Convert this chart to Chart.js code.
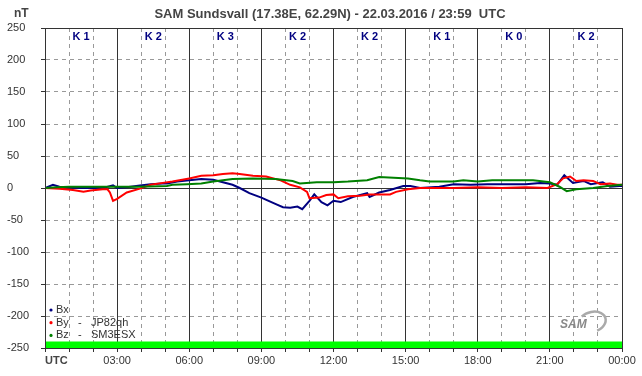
<!DOCTYPE html>
<html>
<head>
<meta charset="utf-8">
<script src="https://cdn.jsdelivr.net/npm/chart.js@4.4.1/dist/chart.umd.min.js"></script>
<style>
  html, body { margin: 0; padding: 0; background: #fff; }
  #wrap { width: 642px; height: 376px; }
</style>
</head>
<body>
<div id="wrap"><canvas id="chart" width="642" height="376"></canvas></div>
<script>
// SAM Sundsvall magnetometer, 22.03.2016

const bxTimes  = [0, 0.33, 0.6, 1.0, 1.5, 2.0, 2.5, 2.83, 3.0, 3.4, 3.95, 4.4, 4.9, 5.07, 5.5, 6.0, 6.5, 7.0, 7.4, 7.8, 8.1, 8.5, 9.0, 9.23, 9.65, 9.9, 10.2, 10.5, 10.7, 11.0, 11.2, 11.5, 11.75, 12.0, 12.3, 12.8, 13.4, 13.5, 13.9, 14.35, 14.9, 15.2, 15.6, 16.4, 17.0, 17.7, 18.4, 19.2, 20.0, 20.6, 21.0, 21.3, 21.6, 21.96, 22.4, 22.7, 23.2, 23.5, 23.9, 24];
const bxValues = [0, 5, 2, 1, 0, 0, 1, 4, 0, 1, 4, 6, 7, 7, 10, 12, 14, 13, 9, 5, 0, -8, -15, -19, -26, -30, -31, -29, -33, -20, -10, -22, -27, -20, -22, -14, -8, -14, -7, -3, 3, 3, 0, 2, 6, 5, 6, 6, 6, 8, 7, 5, 20, 8, 11, 6, 9, 2, 3, 3];

const byTimes  = [0, 0.6, 1.16, 1.6, 1.9, 2.4, 2.6, 2.7, 2.83, 3.0, 3.4, 3.95, 4.4, 4.9, 5.3, 6.0, 6.5, 7.0, 7.4, 7.8, 8.1, 8.65, 9.2, 9.8, 10.2, 10.6, 10.9, 11.0, 11.4, 11.7, 12.0, 12.2, 12.6, 13.1, 13.5, 14.35, 14.6, 15.1, 15.6, 17.0, 18.0, 19.0, 20.0, 20.9, 21.3, 21.55, 21.84, 22.1, 22.4, 22.8, 23.1, 23.5, 23.8, 24];
const byValues = [0, -1, -3, -6, -4, -2, -2, -7, -20, -17, -7, -1, 5, 8, 10, 15, 19, 20, 22, 23, 22, 19, 18, 12, 5, 1, -6, -16, -15, -11, -10, -16, -13, -12, -10, -10, -6, -2, 0, 0, 1, 0, 1, 0, 6, 15, 18, 11, 12, 11, 6, 7, 5, 5];

const bzTimes  = [0, 0.5, 1, 2, 3, 3.95, 5.07, 5.3, 5.9, 6.5, 7.0, 7.8, 8.65, 9.6, 10.3, 10.6, 11.3, 12.0, 12.6, 13.4, 13.9, 14.5, 15.1, 15.6, 16.0, 17.0, 17.4, 18.0, 18.6, 19.5, 20.3, 21.0, 21.4, 21.7, 22.1, 22.8, 23.4, 24];
const bzValues = [0, 1, 2, 2, 2, 2, 3, 5, 6, 7, 10, 14, 15, 14, 11, 7, 9, 9, 10, 12, 17, 16, 15, 12, 10, 10, 12, 10, 12, 12, 12, 9, 2, -5, -2, 0, 3, 5];

// data-quality band at the bottom of the plot
const bandTimes  = [0, 24];
const bandValues = [-240, -240];

const kIndices = [1, 2, 3, 2, 2, 1, 0, 2];
const hourLabels = ['UTC', '', '', '03:00', '', '', '06:00', '', '', '09:00', '', '', '12:00', '', '', '15:00', '', '', '18:00', '', '', '21:00', '', '', '00:00'];

const FONT = '"Liberation Sans", Arial, sans-serif';

const pts = (xs, ys) => xs.map((x, i) => ({ x: x, y: ys[i] }));

const extras = {
    id: 'extras',
    afterDraw(chart) {
        const { ctx, chartArea: a, scales: { x, y } } = chart;
        ctx.save();
        // frame
        ctx.strokeStyle = '#333';
        ctx.lineWidth = 1;
        ctx.strokeRect(a.left + 0.5, a.top + 0.5, a.right - a.left, a.bottom - a.top);

        // title + unit
        ctx.fillStyle = '#444';
        ctx.font = 'bold 13px ' + FONT;
        ctx.textAlign = 'center';
        ctx.textBaseline = 'middle';
        ctx.fillText('SAM Sundsvall (17.38E, 62.29N) - 22.03.2016 / 23:59  UTC', 330, 14);
        ctx.font = 'bold 12px ' + FONT;
        ctx.textAlign = 'left';
        ctx.fillText('nT', 14, 14);

        // K indices per 3h block
        ctx.fillStyle = '#000080';
        ctx.font = 'bold 11px ' + FONT;
        ctx.textAlign = 'center';
        kIndices.forEach((k, i) => {
            ctx.fillText('K ' + k, x.getPixelForValue(i * 3 + 1.5), y.getPixelForValue(250) + 9);
        });

        // UTC label at origin
        ctx.fillStyle = '#444';
        ctx.font = 'bold 11px ' + FONT;
        ctx.textAlign = 'left';
        ctx.fillText('UTC', a.left, 361);

        // legend
        const leg = [['Bx', '', '#000080'], ['By', 'JP82qh', '#ff0000'], ['Bz', 'SM3ESX', '#008000']];
        ctx.font = '11px ' + FONT;
        leg.forEach((l, i) => {
            const ly = 310 + i * 12.7;
            ctx.fillStyle = l[2];
            ctx.beginPath();
            ctx.arc(51, ly, 1.6, 0, Math.PI * 2);
            ctx.fill();
            ctx.fillStyle = '#333';
            ctx.fillText(l[0], 56, ly);
            if (l[1]) {
                ctx.fillText('-', 78, ly);
                ctx.fillText(l[1], 91, ly);
            }
        });

        // SAM logo
        ctx.strokeStyle = '#aaa';
        ctx.lineWidth = 2.5;
        ctx.beginPath();
        ctx.ellipse(592, 322, 14, 10, -0.3, -2.2, 1.4);
        ctx.stroke();
        ctx.fillStyle = '#888';
        ctx.font = 'italic bold 12px ' + FONT;
        ctx.textAlign = 'left';
        ctx.fillText('SAM', 560, 325);
        ctx.restore();
    }
};

new Chart(document.getElementById('chart'), {
    type: 'line',
    data: {
        datasets: [
            { label: 'Bz', data: pts(bzTimes, bzValues), borderColor: '#008000', order: 0 },
            { label: 'By', data: pts(byTimes, byValues), borderColor: '#ff0000', order: 1 },
            { label: 'Bx', data: pts(bxTimes, bxValues), borderColor: '#000080', order: 2 },
            {
                label: 'band', data: pts(bandTimes, bandValues), borderWidth: 0,
                borderColor: 'rgba(0,0,0,0)', backgroundColor: '#00ff00',
                fill: { value: -250 }, order: 3
            }
        ]
    },
    options: {
        responsive: false,
        animation: false,
        parsing: false,
        elements: {
            point: { radius: 0 },
            line: { borderWidth: 2, tension: 0 }
        },
        layout: { padding: { left: 7, right: 20, top: 28, bottom: 0 } },
        plugins: { legend: { display: false }, tooltip: { enabled: false } },
        scales: {
            x: {
                type: 'linear', min: 0, max: 24,
                afterFit: s => { s.height = 28; },
                ticks: {
                    stepSize: 1, autoSkip: false, maxRotation: 0, padding: 2,
                    color: '#333', font: { family: FONT, size: 11 },
                    callback: v => (v === 0 ? '' : hourLabels[v])
                },
                grid: {
                    color: c => (c.tick && c.tick.value % 3 === 0 ? '#333' : '#999'),
                    tickColor: '#333', tickLength: 4, lineWidth: 1
                },
                border: {
                    color: '#333',
                    dash: c => (c.tick && c.tick.value % 3 !== 0 ? [4, 4] : [])
                }
            },
            y: {
                min: -250, max: 250,
                afterFit: s => { s.width = 38; },
                ticks: {
                    stepSize: 50, crossAlign: 'far', padding: 4,
                    color: '#333', font: { family: FONT, size: 11 }
                },
                grid: {
                    color: c => (c.tick && c.tick.value === 0 ? '#333' : '#999'),
                    tickColor: '#333', tickLength: 4, lineWidth: 1
                },
                border: {
                    color: '#333',
                    dash: c => (c.tick && c.tick.value !== 0 ? [4, 4] : [])
                }
            }
        }
    },
    plugins: [extras]
});
</script>
</body>
</html>
